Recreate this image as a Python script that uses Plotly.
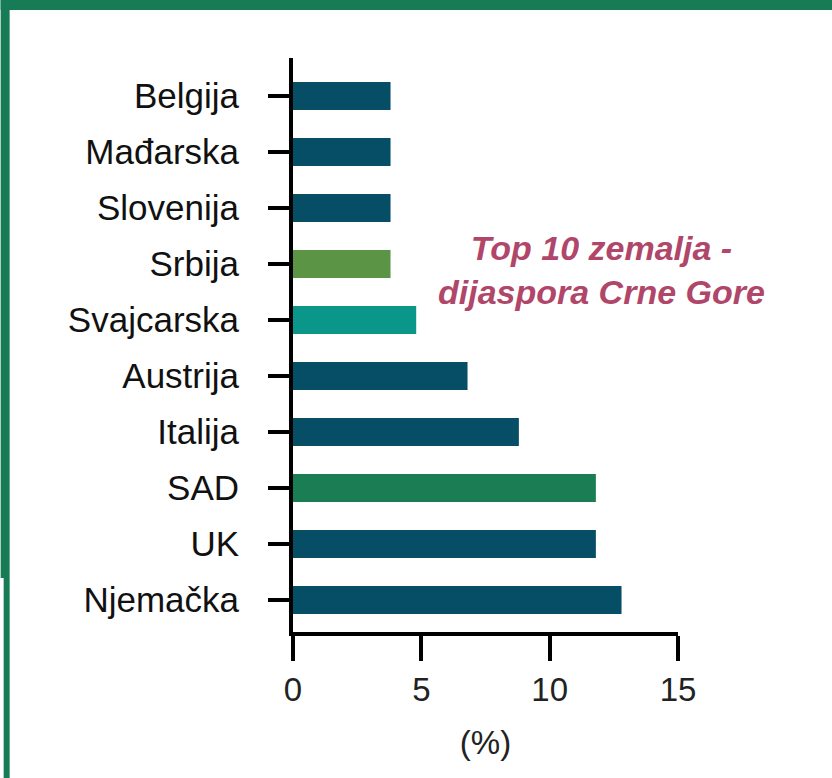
import plotly.graph_objects as go

# data, bottom to top
countries = ["Njemačka", "UK", "SAD", "Italija", "Austrija", "Svajcarska",
             "Srbija", "Slovenija", "Mađarska", "Belgija"]
shares = [12.8, 11.8, 11.8, 8.8, 6.8, 4.8, 3.8, 3.8, 3.8, 3.8]
bar_colors = ["#064d66", "#064d66", "#1b7d54", "#064d66", "#064d66",
              "#0b968a", "#5a9444", "#064d66", "#064d66", "#064d66"]
x_ticks = [0, 5, 10, 15]

W, H = 832, 778
L, R, T, B = 292.5, 154.3, 58, 146
BORDER = "#177c56"


def px_x(p):
    return (p - L) / (W - L - R)


def px_y(p):
    return (H - B - p) / (H - T - B)


fig = go.Figure(
    go.Bar(
        x=shares,
        y=countries,
        orientation="h",
        width=0.5,
        marker=dict(color=bar_colors, line=dict(width=0)),
        hoverinfo="x+y",
    )
)

fig.update_layout(
    width=W,
    height=H,
    plot_bgcolor="white",
    paper_bgcolor="white",
    margin=dict(l=L, r=R, t=T, b=B, pad=0),
    font=dict(family="Liberation Sans, Arial, sans-serif", color="#111111"),
    showlegend=False,
    annotations=[
        dict(
            text="<b><i>Top 10 zemalja -<br>dijaspora Crne Gore</i></b>",
            xref="paper", yref="paper",
            x=px_x(601), y=px_y(270),
            xanchor="center", yanchor="middle",
            showarrow=False,
            font=dict(size=34, color="#b0476a"),
        )
    ],
    shapes=[
        # green frame around the picture
        dict(type="rect", xref="paper", yref="paper",
             x0=px_x(0), x1=px_x(W), y0=px_y(0), y1=px_y(10),
             fillcolor=BORDER, line=dict(width=0), layer="above"),
        dict(type="rect", xref="paper", yref="paper",
             x0=px_x(0), x1=px_x(9), y0=px_y(0), y1=px_y(578),
             fillcolor=BORDER, line=dict(width=0), layer="above"),
        dict(type="rect", xref="paper", yref="paper",
             x0=px_x(3), x1=px_x(9), y0=px_y(578), y1=px_y(H),
             fillcolor=BORDER, line=dict(width=0), layer="above"),
    ],
)

fig.update_xaxes(
    range=[0, 15],
    tickvals=x_ticks,
    showgrid=False,
    zeroline=False,
    showline=True,
    linecolor="black",
    linewidth=4,
    ticks="outside",
    ticklen=25,
    tickwidth=4,
    tickcolor="black",
    tickfont=dict(size=33, color="#222222"),
    title=dict(text="(%)", font=dict(size=33, color="#222222"), standoff=25),
)
fig.update_yaxes(
    range=[-0.57, 9.68],
    showgrid=False,
    zeroline=False,
    showline=True,
    linecolor="black",
    linewidth=4,
    ticks="outside",
    ticklen=21,
    tickwidth=4,
    tickcolor="black",
    tickfont=dict(size=35, color="#111111"),
    ticklabelstandoff=22,
)

fig.write_html(
    "out.html",
    config={"displayModeBar": False},
    post_script="document.body.style.margin='0';",
)
